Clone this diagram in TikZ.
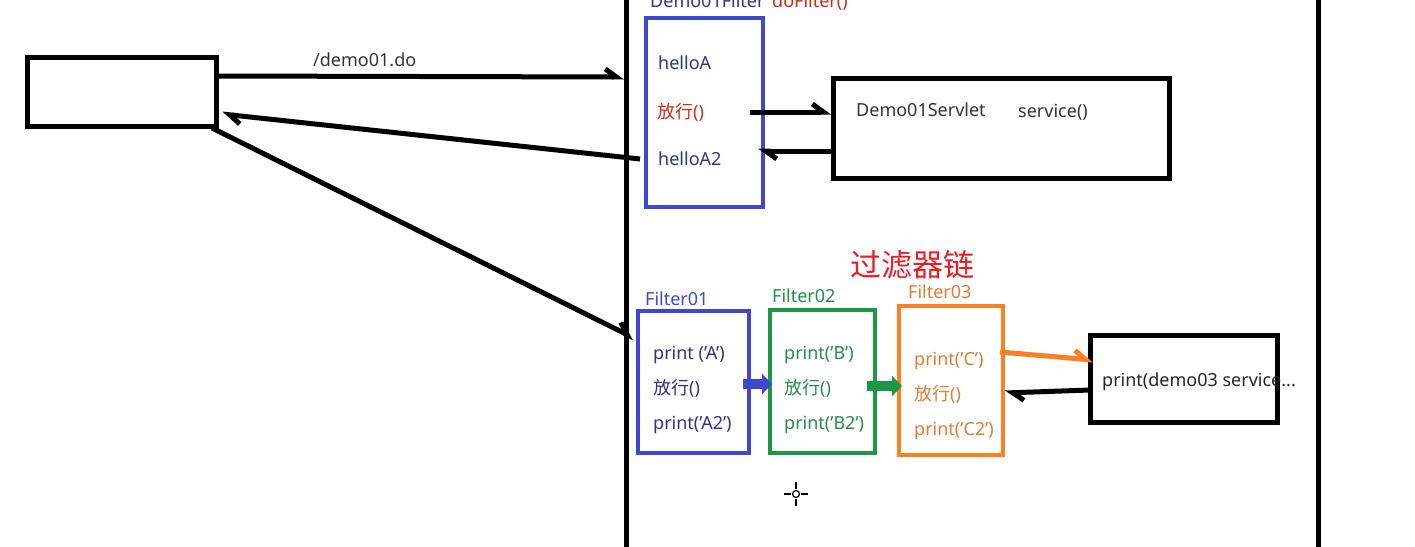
\documentclass[tikz,border=0pt]{standalone}
\usepackage{fontspec}
\setmainfont{Noto Sans}
\newfontfamily\cjk{Noto Sans CJK SC}
\usetikzlibrary{arrows.meta}
\definecolor{navy}{RGB}{46,49,146}
\definecolor{pblue}{RGB}{63,72,204}
\definecolor{pgreen}{RGB}{30,150,70}
\definecolor{tgreen}{RGB}{40,140,75}
\definecolor{porange}{RGB}{255,127,39}
\definecolor{torange}{RGB}{225,125,55}
\definecolor{dred}{RGB}{200,45,25}
\definecolor{bred}{RGB}{237,28,36}
\tikzset{
  box/.style={draw, line width=#1, inner sep=0pt, outer sep=0pt},
  txt/.style={anchor=base west, inner sep=0pt, font=\fontsize{18}{21}\selectfont},
  conn/.style={line width=5pt},
  hd/.style={-{Straight Barb[length=11pt,width=16pt,#1]}},
}
\begin{document}
\begin{tikzpicture}[x=1pt,y=-1pt]
\useasboundingbox (0,0) rectangle (1415,546);
\fill[white] (0,0) rectangle (1415,546);
% vertical lines
\coordinate (v1t) at (626,-5); \coordinate (v1b) at (626,551);
\coordinate (v2t) at (1318,-5); \coordinate (v2b) at (1318,551);
\draw[line width=5pt] (v1t) -- (v1b);
\draw[line width=5pt] (v2t) -- (v2b);
% boxes
\node[box=5pt, minimum width=189pt, minimum height=69pt] (client) at (121.5,91.5) {};
\node[box=4pt, draw=pblue, minimum width=117pt, minimum height=189pt] (df) at (704.5,112.5) {};
\node[box=5pt, minimum width=336pt, minimum height=100pt] (servlet) at (1001,128) {};
\node[box=4pt, draw=pblue, minimum width=111pt, minimum height=142pt] (f1) at (693.5,382) {};
\node[box=4pt, draw=pgreen, minimum width=105pt, minimum height=143pt] (f2) at (822.5,381.5) {};
\node[box=4pt, draw=porange, minimum width=104pt, minimum height=149pt] (f3) at (951,380.5) {};
\node[box=5pt, minimum width=187pt, minimum height=87pt] (pbox) at (1183.5,378.5) {};
% texts
\node[txt, text=navy] (dft) at (650,8) {Demo01Filter};
\node[txt, text=dred] (dfm) at (772,8) {doFilter()};
\node[txt, text=navy] (ha) at (658,69) {helloA};
\node[txt, text=dred] (fx) at (657,118) {{\cjk 放行}()};
\node[txt, text=navy] (ha2) at (658,165) {helloA2};
\node[txt, text=black!80] (sn) at (856,116) {Demo01Servlet};
\node[txt, text=black!80] (sm) at (1018,117) {service()};
\node[txt, text=black!80] (url) at (313,66) {/demo01.do};
\node[anchor=center, inner sep=0pt, text=bred, font=\cjk\fontsize{31}{36}\selectfont] (chain) at (912,265) {过滤器链};
\node[txt, text=pblue] (l1) at (645,305) {Filter01};
\node[txt, text=tgreen] (l2) at (772,302) {Filter02};
\node[txt, text=torange] (l3) at (908,298) {Filter03};
\node[txt, text=navy] (a1) at (653,359) {print ('A')};
\node[txt, text=navy] (a2) at (653,394) {{\cjk 放行}()};
\node[txt, text=navy] (a3) at (653,429) {print('A2')};
\node[txt, text=tgreen] (b1) at (784,359) {print('B')};
\node[txt, text=tgreen] (b2) at (784,394) {{\cjk 放行}()};
\node[txt, text=tgreen] (b3) at (784,429) {print('B2')};
\node[txt, text=torange] (c1) at (914,365) {print('C')};
\node[txt, text=torange] (c2) at (914,400) {{\cjk 放行}()};
\node[txt, text=torange] (c3) at (914,435) {print('C2')};
\node[txt, text=black!85] (pt) at (1102,386) {print(demo03 service...};
% connector end points
\coordinate (r1s) at (216,76); \coordinate (r1e) at (624,77);
\coordinate (r2s) at (640,159); \coordinate (r2e) at (222,114);
\coordinate (r3s) at (212,128); \coordinate (r3e) at (634,338);
\coordinate (s1s) at (750,112); \coordinate (s1e) at (831,112);
\coordinate (s2s) at (836,151); \coordinate (s2e) at (758,151);
\coordinate (o1s) at (1000,352); \coordinate (o1e) at (1093,360);
\coordinate (o2s) at (1090,390); \coordinate (o2e) at (1005,393);
\coordinate (g1s) at (743,384); \coordinate (g1e) at (772,384);
\coordinate (g2s) at (867,386); \coordinate (g2e) at (902,386);
% connectors
\draw[conn, hd=left] (r1s) -- (r1e);
\draw[conn, hd=left] (r2s) -- (r2e);
\draw[conn, hd=left] (r3s) -- (r3e);
\draw[conn, hd=left] (s1s) -- (s1e);
\draw[conn, hd=left] (s2s) -- (s2e);
\draw[conn, draw=porange, hd=left] (o1s) -- (o1e);
\draw[conn, hd=left] (o2s) -- (o2e);
\draw[line width=10pt, draw=pblue, -{Triangle[length=10pt,width=20pt]}] (g1s) -- (g1e);
\draw[line width=10pt, draw=pgreen, -{Triangle[length=10pt,width=20pt]}] (g2s) -- (g2e);
% cursor
\draw[line width=1.2pt] (796,494) circle (3.5);
\draw[line width=1.2pt] (796,482) -- (796,489) (796,499) -- (796,506)
  (784,494) -- (791,494) (801,494) -- (808,494);
\end{tikzpicture}
\end{document}
